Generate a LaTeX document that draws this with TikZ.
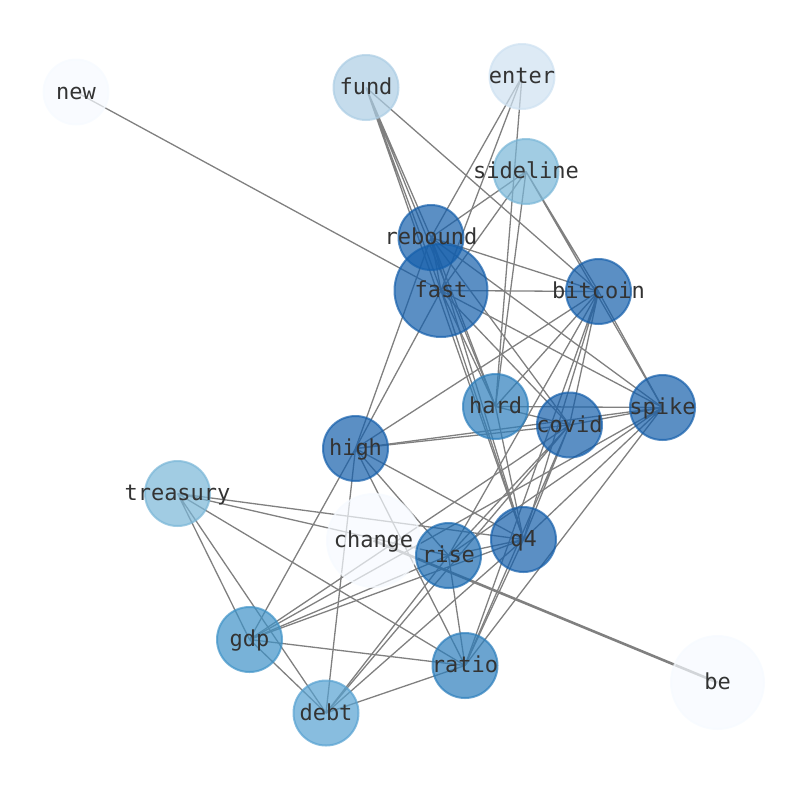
\documentclass[tikz,border=0pt]{standalone}
\usepackage{fontspec}
\setmonofont{DejaVu Sans Mono}
\usepackage{xcolor}
\usepackage{tikz}
\usetikzlibrary{backgrounds}

\definecolor{blA}{RGB}{246,250,255}
\definecolor{blB}{RGB}{206,225,241}
\definecolor{blC}{RGB}{172,205,228}
\definecolor{blD}{RGB}{121,182,215}
\definecolor{blE}{RGB}{86,161,209}
\definecolor{blF}{RGB}{62,146,199}
\definecolor{blG}{RGB}{44,126,188}
\definecolor{blH}{RGB}{25,105,176}
\definecolor{blI}{RGB}{21,95,171}

\begin{document}
\begin{tikzpicture}[
  x=1pt, y=-1pt,
  font=\ttfamily\fontsize{22}{24}\selectfont,
  w/.style={circle, minimum size=65pt, inner sep=0pt, line width=2pt,
            draw=#1, fill=#1, fill opacity=0.7, draw opacity=0.7},
  big/.style={w=#1, minimum size=93pt},
  lbl/.style={text=black!80, text height=18pt, text depth=4pt, inner sep=0pt},
  e/.style={draw=black!50, line width=1.3pt}
]
\useasboundingbox (0,0) rectangle (794,790);

% circles
\node[w=blA] (new) at (76,92) {};
\node[w=blC] (fund) at (366,87.5) {};
\node[w=blB] (enter) at (522,76.5) {};
\node[w=blD] (sideline) at (526,171.5) {};
\node[big=blI] (fast) at (441,290.5) {};
\node[w=blI] (rebound) at (431,237.5) {};
\node[w=blI] (bitcoin) at (598.5,291.5) {};
\node[w=blG] (hard) at (495.5,406.5) {};
\node[w=blI] (covid) at (569.5,425) {};
\node[w=blI] (spike) at (662.5,407.5) {};
\node[w=blI] (high) at (355.5,448.5) {};
\node[w=blD] (treasury) at (177.5,493.5) {};
\node[big=blA] (change) at (373.5,540.5) {};
\node[w=blH] (rise) at (448.5,555.5) {};
\node[w=blI] (q4) at (523.5,539.5) {};
\node[w=blF] (gdp) at (249.5,639.5) {};
\node[w=blG] (ratio) at (465,665.5) {};
\node[w=blE] (debt) at (326,713) {};
\node[big=blA] (be) at (717.5,682.5) {};

% labels
\node[lbl] (new-t) at (new) {new};
\node[lbl] (fund-t) at (fund) {fund};
\node[lbl] (enter-t) at (enter) {enter};
\node[lbl] (sideline-t) at (sideline) {sideline};
\node[lbl] (rebound-t) at (rebound) {rebound};
\node[lbl] (fast-t) at (fast) {fast};
\node[lbl] (bitcoin-t) at (bitcoin) {bitcoin};
\node[lbl] (hard-t) at (hard) {hard};
\node[lbl] (covid-t) at (covid) {covid};
\node[lbl] (spike-t) at (spike) {spike};
\node[lbl] (high-t) at (high) {high};
\node[lbl] (treasury-t) at (treasury) {treasury};
\node[lbl] (change-t) at (change) {change};
\node[lbl] (rise-t) at (rise) {rise};
\node[lbl] (q4-t) at (q4) {q4};
\node[lbl] (gdp-t) at (gdp) {gdp};
\node[lbl] (ratio-t) at (ratio) {ratio};
\node[lbl] (debt-t) at (debt) {debt};
\node[lbl] (be-t) at (be) {be};

% edges, under the circles
\begin{scope}[on background layer]
\draw[e] (new.center) -- (fast.center);
\draw[e, line width=2.6pt] (be.center) -- (change.center);
\draw[e] (fund.center) -- (rebound.center) (fund.center) -- (fast.center)
  (fund.center) -- (hard.center) (fund.center) -- (q4.center)
  (fund.center) -- (bitcoin.center);
\draw[e] (enter.center) -- (rebound.center) (enter.center) -- (fast.center)
  (enter.center) -- (hard.center);
\draw[e] (sideline.center) -- (rebound.center) (sideline.center) -- (fast.center)
  (sideline.center) -- (hard.center) (sideline.center) -- (bitcoin.center)
  (sideline.center) -- (spike.center);
\draw[e] (rebound.center) -- (fast.center) (rebound.center) -- (bitcoin.center)
  (rebound.center) -- (high.center) (rebound.center) -- (hard.center)
  (rebound.center) -- (covid.center) (rebound.center) -- (spike.center)
  (rebound.center) -- (q4.center);
\draw[e] (fast.center) -- (bitcoin.center) (fast.center) -- (high.center)
  (fast.center) -- (hard.center) (fast.center) -- (covid.center)
  (fast.center) -- (spike.center) (fast.center) -- (q4.center);
\draw[e] (bitcoin.center) -- (spike.center) (bitcoin.center) -- (high.center)
  (bitcoin.center) -- (hard.center) (bitcoin.center) -- (covid.center)
  (bitcoin.center) -- (q4.center) (bitcoin.center) -- (rise.center)
  (bitcoin.center) -- (ratio.center);
\draw[e] (hard.center) -- (covid.center) (hard.center) -- (spike.center)
  (hard.center) -- (q4.center);
\draw[e] (covid.center) -- (spike.center) (covid.center) -- (high.center)
  (covid.center) -- (rise.center) (covid.center) -- (q4.center)
  (covid.center) -- (gdp.center) (covid.center) -- (debt.center)
  (covid.center) -- (ratio.center);
\draw[e] (spike.center) -- (high.center) (spike.center) -- (rise.center)
  (spike.center) -- (q4.center) (spike.center) -- (gdp.center)
  (spike.center) -- (ratio.center);
\draw[e] (high.center) -- (q4.center) (high.center) -- (rise.center)
  (high.center) -- (ratio.center) (high.center) -- (gdp.center)
  (high.center) -- (debt.center);
\draw[e] (treasury.center) -- (gdp.center) (treasury.center) -- (debt.center)
  (treasury.center) -- (ratio.center) (treasury.center) -- (rise.center)
  (treasury.center) -- (q4.center);
\draw[e] (rise.center) -- (q4.center) (rise.center) -- (gdp.center)
  (rise.center) -- (debt.center) (rise.center) -- (ratio.center);
\draw[e] (q4.center) -- (gdp.center) (q4.center) -- (debt.center)
  (q4.center) -- (ratio.center);
\draw[e] (gdp.center) -- (debt.center) (gdp.center) -- (ratio.center);
\draw[e] (debt.center) -- (ratio.center);
\end{scope}
\end{tikzpicture}
\end{document}
